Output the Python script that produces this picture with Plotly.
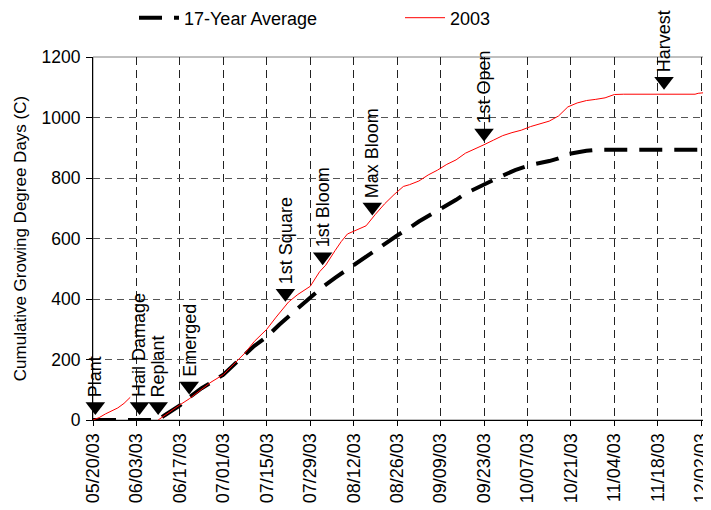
import plotly.graph_objects as go

# ---------------- data ----------------
avg_dates = ["2003-05-20", "2003-06-10", "2003-06-12", "2003-06-17", "2003-06-20", "2003-06-24",
             "2003-06-28", "2003-07-01", "2003-07-06", "2003-07-11", "2003-07-15", "2003-07-19",
             "2003-07-24", "2003-07-29", "2003-08-02", "2003-08-06", "2003-08-11", "2003-08-15",
             "2003-08-19", "2003-08-23", "2003-08-26", "2003-08-30", "2003-09-02", "2003-09-06",
             "2003-09-10", "2003-09-14", "2003-09-17", "2003-09-21", "2003-09-24", "2003-09-28",
             "2003-10-03", "2003-10-08", "2003-10-14", "2003-10-17", "2003-10-20", "2003-10-23",
             "2003-10-26", "2003-10-29", "2003-12-03"]
avg_values = [0, 0, 15, 48, 75, 105,
              130, 150, 198, 245, 275, 315,
              360, 405, 440, 470, 505, 535,
              562, 590, 610, 635, 656, 680,
              703, 728, 749, 770, 785, 803,
              826, 843, 856, 865, 879, 886,
              890, 893, 893]

y2003_dates = ["2003-05-20", "2003-05-22", "2003-05-24", "2003-05-26", "2003-05-28", "2003-05-30",
               "2003-06-01", "2003-06-02", "2003-06-10", "2003-06-12", "2003-06-14", "2003-06-17",
               "2003-06-20", "2003-06-24", "2003-06-27", "2003-07-01", "2003-07-04", "2003-07-08",
               "2003-07-11", "2003-07-15", "2003-07-18", "2003-07-22", "2003-07-25", "2003-07-29",
               "2003-08-01", "2003-08-03", "2003-08-06", "2003-08-08", "2003-08-10", "2003-08-13",
               "2003-08-16", "2003-08-19", "2003-08-22", "2003-08-25", "2003-08-28", "2003-08-30",
               "2003-09-02", "2003-09-05", "2003-09-08", "2003-09-11", "2003-09-14", "2003-09-17",
               "2003-09-20", "2003-09-23", "2003-09-26", "2003-09-29", "2003-10-02", "2003-10-05",
               "2003-10-08", "2003-10-11", "2003-10-14", "2003-10-17", "2003-10-20", "2003-10-23",
               "2003-10-26", "2003-10-29", "2003-11-01", "2003-11-04", "2003-11-07", "2003-11-30",
               "2003-12-01", "2003-12-03"]
y2003_values = [0, 8, 20, 30, 40, 55,
                75, None, 0, 15, 28, 50,
                70, 100, 125, 150, 180, 222,
                260, 300, 340, 390, 415, 442,
                490, 512, 560, 590, 615, 628,
                642, 680, 715, 745, 772, 778,
                790, 810, 826, 845, 860, 882,
                895, 910, 925, 940, 950, 958,
                970, 980, 988, 1005, 1035, 1048,
                1056, 1060, 1065, 1076, 1077, 1077,
                1080, 1082]

stage_names = ["Plant", "Hail Damage", "Replant", "Emerged", "1st Square",
               "1st Bloom", "Max Bloom", "1st Open", "Harvest"]
stage_dates = ["2003-05-20 18:00", "2003-06-04", "2003-06-10", "2003-06-20", "2003-07-21",
               "2003-08-02", "2003-08-18", "2003-09-23", "2003-11-20"]
stage_values = [45, 45, 45, 112, 419, 540, 704, 949, 1120]

tick_dates = ["2003-05-20", "2003-06-03", "2003-06-17", "2003-07-01", "2003-07-15",
              "2003-07-29", "2003-08-12", "2003-08-26", "2003-09-09", "2003-09-23",
              "2003-10-07", "2003-10-21", "2003-11-04", "2003-11-18", "2003-12-02"]
tick_labels = ["05/20/03", "06/03/03", "06/17/03", "07/01/03", "07/15/03",
               "07/29/03", "08/12/03", "08/26/03", "09/09/03", "09/23/03",
               "10/07/03", "10/21/03", "11/04/03", "11/18/03", "12/02/03"]
y_ticks = [0, 200, 400, 600, 800, 1000, 1200]

FONT = "Liberation Sans, Arial, sans-serif"
FS = 18
PLOT_H = 363
MT = 49  # top margin (page is offset by the 8px body margin)

fig = go.Figure()
fig.add_trace(go.Scatter(x=avg_dates, y=avg_values, mode="lines", name="17-Year Average",
                         line=dict(color="black", width=4, dash="23px,12px")))
fig.add_trace(go.Scatter(x=y2003_dates, y=y2003_values, mode="lines", name="2003",
                         line=dict(color="#ff0000", width=1), connectgaps=False))
fig.add_trace(go.Scatter(x=stage_dates, y=stage_values, mode="markers", showlegend=False,
                         cliponaxis=False,
                         marker=dict(symbol="triangle-down", size=17, color="black")))

for n, d, v in zip(stage_names, stage_dates, stage_values):
    fig.add_annotation(x=d, y=v, text=n, textangle=-90, showarrow=False,
                       xanchor="center", yanchor="bottom", yshift=7,
                       font=dict(family=FONT, size=FS, color="black"))

fig.add_shape(type="rect", xref="paper", yref="paper", x0=0, x1=1, y0=0, y1=1,
              line=dict(color="#808080", width=1), layer="below")

fig.update_layout(
    width=703, height=502,
    margin=dict(l=85, r=3, t=MT, b=90, autoexpand=False),
    paper_bgcolor="white", plot_bgcolor="white",
    font=dict(family=FONT, size=FS, color="black"),
    legend=dict(orientation="h", x=(134 - 93) / 615, y=1 + (MT - 10) / PLOT_H,
                xanchor="left", yanchor="middle",
                font=dict(family=FONT, size=FS), itemwidth=40,
                entrywidth=211, entrywidthmode="pixels", bgcolor="rgba(0,0,0,0)"),
    xaxis=dict(range=["2003-05-20", "2003-12-04 04:00"], tickvals=tick_dates, ticktext=tick_labels,
               tickangle=-90, ticks="outside", ticklen=5, tickcolor="black",
               showline=True, linecolor="black", linewidth=1, automargin=False,
               ticklabeloverflow="allow",
               showgrid=True, gridcolor="#222222", griddash="8px,5px", gridwidth=1,
               zeroline=False, tickfont=dict(size=FS)),
    yaxis=dict(range=[0, 1200], tickvals=y_ticks, ticks="outside", ticklen=6, tickcolor="black",
               showline=True, linecolor="black", linewidth=1, automargin=False,
               showgrid=True, gridcolor="#555555", griddash="7px,5px", gridwidth=1,
               zeroline=False, tickfont=dict(size=17.5), ticklabelstandoff=2,
               title=dict(text="Cumulative Growing Degree Days (C)", font=dict(size=17), standoff=10)),
)

fig.write_html("out.html")
